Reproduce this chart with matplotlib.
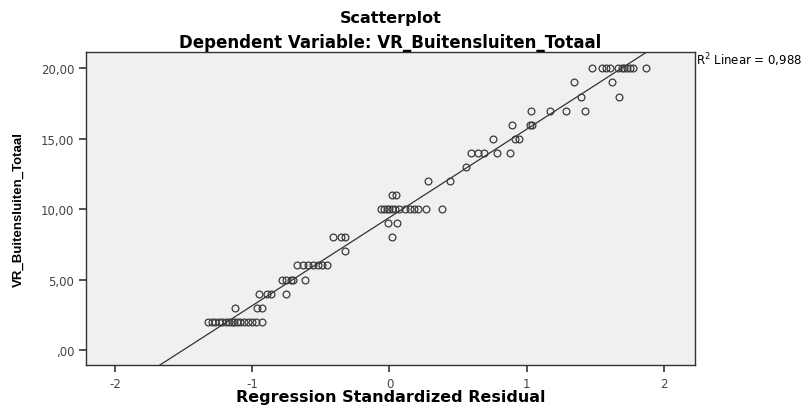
import numpy as np
import matplotlib
matplotlib.use('Agg')
from matplotlib import pyplot as plt
from matplotlib.ticker import FuncFormatter

plt.rcParams['font.family'] = ['DejaVu Sans']
plt.rcParams['axes.unicode_minus'] = False

# standardized residual (x) and VR_Buitensluiten_Totaal (y), read per row
resid = [
    -1.32, -1.29, -1.27, -1.24, -1.22, -1.19, -1.17, -1.15, -1.13, -1.11, -1.09, -1.06, -1.03, -1.00, -0.97, -0.93,
    -1.125, -0.967, -0.93,
    -0.948, -0.89, -0.86, -0.754,
    -0.785, -0.75, -0.72, -0.70, -0.615,
    -0.67, -0.63, -0.59, -0.56, -0.52, -0.49, -0.455,
    -0.324,
    -0.41, -0.355, -0.324, 0.02,
    -0.01, 0.057,
    -0.06, -0.04, -0.02, 0.0, 0.02, 0.04, 0.07, 0.11, 0.15, 0.18, 0.21, 0.264, 0.38,
    0.02, 0.05,
    0.283, 0.44,
    0.557,
    0.591, 0.642, 0.688, 0.78, 0.877,
    0.756, 0.915, 0.94,
    0.894, 1.02, 1.035,
    1.028, 1.169, 1.283, 1.421,
    1.395, 1.672,
    1.344, 1.622,
    1.475, 1.548, 1.577, 1.606, 1.664, 1.69, 1.71, 1.73, 1.75, 1.77, 1.87,
]
total = (
    [2] * 16 + [3] * 3 + [4] * 4 + [5] * 5 + [6] * 7 + [7] * 1 + [8] * 4 + [9] * 2
    + [10] * 13 + [11] * 2 + [12] * 2 + [13] * 1 + [14] * 5 + [15] * 3 + [16] * 3
    + [17] * 4 + [18] * 2 + [19] * 2 + [20] * 11
)
r2_text = 'R$^2$ Linear = 0,988'

x = np.array(resid)
y = np.array(total, dtype=float)


def comma_fmt(v, pos):
    s = ('%.2f' % v).replace('.', ',')
    return s[1:] if s.startswith('0') else s


fig = plt.figure(figsize=(8.07, 4.10), dpi=100)
ax = fig.add_axes([0.1066, 0.1073, 0.7546, 0.7634])
ax.set_facecolor('#f0f0f0')

xlim = (-2.21, 2.225)
ylim = (-1.07, 21.16)

slope, icpt = np.polyfit(x, y, 1)
xs = np.array(xlim)
ax.plot(xs, slope * xs + icpt, color='#333333', lw=0.9, zorder=2)

ax.plot(x, y, 'o', mfc='none', mec='#3a3a3a', mew=0.9, ms=4.9, zorder=3)

ax.set_xlim(xlim)
ax.set_ylim(ylim)
ax.set_xticks([-2, -1, 0, 1, 2])
ax.set_yticks([0, 5, 10, 15, 20])
ax.yaxis.set_major_formatter(FuncFormatter(comma_fmt))

for s in ax.spines.values():
    s.set_color('#333333')
    s.set_linewidth(1.0)
ax.tick_params(direction='out', length=5, width=1.2, color='#333333', labelcolor='#444444', labelsize=8.5)

ax.set_xlabel('Regression Standardized Residual', fontsize=11.5, fontweight='bold', va='center')
ax.xaxis.set_label_coords(0.5, -0.102)
ax.set_ylabel('VR_Buitensluiten_Totaal', fontsize=9.5, fontweight='bold',
              family=['Liberation Sans', 'DejaVu Sans'], va='center')
ax.yaxis.set_label_coords(-0.11, 0.5)

fig.text(0.4839, 0.956, 'Scatterplot', ha='center', va='center', fontsize=11.5, fontweight='bold')
fig.text(0.4839, 0.895, 'Dependent Variable: VR_Buitensluiten_Totaal', ha='center', va='center',
         fontsize=12, fontweight='bold')
fig.text(0.862, 0.853, r2_text, ha='left', va='center', fontsize=8.5)

fig.savefig('out.png', dpi=100)
